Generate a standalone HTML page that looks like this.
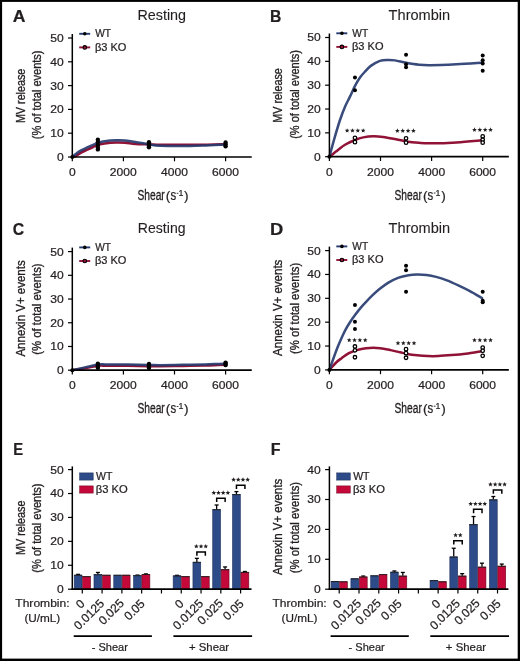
<!DOCTYPE html>
<html><head><meta charset="utf-8"><style>
html,body{margin:0;padding:0;background:#fff;}
svg{display:block;font-family:"Liberation Sans", sans-serif;will-change:transform;}
text{stroke:#231f20;stroke-width:0.22px;}
</style></head><body>
<svg width="520" height="661" viewBox="0 0 520 661">
<rect x="0" y="0" width="520" height="661" fill="#fff"/>
<path d="M72.30,157.00 C72.88,156.84 74.27,156.81 75.80,156.05 C77.33,155.28 79.58,153.48 81.50,152.41 C83.41,151.34 85.36,150.52 87.30,149.62 C89.23,148.72 91.26,147.79 93.10,147.00 C94.93,146.22 96.39,145.49 98.31,144.91 C100.23,144.33 101.61,143.91 104.60,143.51 C107.58,143.10 112.79,142.61 116.19,142.48 C119.60,142.35 121.81,142.48 125.01,142.72 C128.21,142.96 131.42,143.63 135.41,143.91 C139.40,144.19 144.79,144.23 148.95,144.39 C153.11,144.54 155.22,144.80 160.40,144.86 C165.57,144.92 172.89,144.76 179.99,144.74 C187.09,144.72 195.39,144.84 202.99,144.74 C210.59,144.64 221.83,144.25 225.60,144.15" fill="none" stroke="#901236" stroke-width="2.5" stroke-linecap="round"/>
<path d="M72.30,157.00 C72.88,156.48 74.27,155.04 75.80,153.91 C77.33,152.77 79.58,151.28 81.50,150.19 C83.41,149.11 85.36,148.31 87.30,147.41 C89.23,146.51 91.26,145.57 93.10,144.79 C94.93,144.01 96.39,143.30 98.31,142.72 C100.23,142.14 101.61,141.69 104.60,141.29 C107.58,140.90 112.79,140.46 116.19,140.34 C119.60,140.22 121.81,140.30 125.01,140.58 C128.21,140.86 131.42,141.37 135.41,142.01 C139.40,142.64 144.79,143.77 148.95,144.39 C153.11,145.00 155.22,145.42 160.40,145.69 C165.57,145.97 172.89,146.09 179.99,146.05 C187.09,146.01 195.39,145.73 202.99,145.46 C210.59,145.18 221.83,144.56 225.60,144.39" fill="none" stroke="#273c70" stroke-width="2.5" stroke-linecap="round" opacity="0.92"/>
<line x1="72.30" y1="34.00" x2="72.30" y2="157.75" stroke="#000" stroke-width="1.5"/>
<line x1="68.00" y1="157.00" x2="72.30" y2="157.00" stroke="#000" stroke-width="1.2"/>
<text x="56.97" y="160.91" font-size="11.2" text-anchor="start" font-weight="normal" fill="#231f20" textLength="6.73" lengthAdjust="spacingAndGlyphs" >0</text>
<line x1="68.00" y1="133.20" x2="72.30" y2="133.20" stroke="#000" stroke-width="1.2"/>
<text x="50.26" y="137.11" font-size="11.2" text-anchor="start" font-weight="normal" fill="#231f20" textLength="13.45" lengthAdjust="spacingAndGlyphs" >10</text>
<line x1="68.00" y1="109.40" x2="72.30" y2="109.40" stroke="#000" stroke-width="1.2"/>
<text x="50.26" y="113.31" font-size="11.2" text-anchor="start" font-weight="normal" fill="#231f20" textLength="13.45" lengthAdjust="spacingAndGlyphs" >20</text>
<line x1="68.00" y1="85.60" x2="72.30" y2="85.60" stroke="#000" stroke-width="1.2"/>
<text x="50.26" y="89.51" font-size="11.2" text-anchor="start" font-weight="normal" fill="#231f20" textLength="13.45" lengthAdjust="spacingAndGlyphs" >30</text>
<line x1="68.00" y1="61.80" x2="72.30" y2="61.80" stroke="#000" stroke-width="1.2"/>
<text x="50.26" y="65.71" font-size="11.2" text-anchor="start" font-weight="normal" fill="#231f20" textLength="13.45" lengthAdjust="spacingAndGlyphs" >40</text>
<line x1="68.00" y1="38.00" x2="72.30" y2="38.00" stroke="#000" stroke-width="1.2"/>
<text x="50.26" y="41.91" font-size="11.2" text-anchor="start" font-weight="normal" fill="#231f20" textLength="13.45" lengthAdjust="spacingAndGlyphs" >50</text>
<line x1="71.55" y1="157.00" x2="251.75" y2="157.00" stroke="#000" stroke-width="1.7"/>
<line x1="72.30" y1="157.00" x2="72.30" y2="161.30" stroke="#000" stroke-width="1.2"/>
<text x="68.94" y="175.90" font-size="11.2" text-anchor="start" font-weight="normal" fill="#231f20" textLength="6.73" lengthAdjust="spacingAndGlyphs" >0</text>
<line x1="123.40" y1="157.00" x2="123.40" y2="161.30" stroke="#000" stroke-width="1.2"/>
<text x="109.88" y="175.90" font-size="11.2" text-anchor="start" font-weight="normal" fill="#231f20" textLength="26.91" lengthAdjust="spacingAndGlyphs" >2000</text>
<line x1="174.50" y1="157.00" x2="174.50" y2="161.30" stroke="#000" stroke-width="1.2"/>
<text x="161.13" y="175.90" font-size="11.2" text-anchor="start" font-weight="normal" fill="#231f20" textLength="26.91" lengthAdjust="spacingAndGlyphs" >4000</text>
<line x1="225.60" y1="157.00" x2="225.60" y2="161.30" stroke="#000" stroke-width="1.2"/>
<text x="212.08" y="175.90" font-size="11.2" text-anchor="start" font-weight="normal" fill="#231f20" textLength="26.91" lengthAdjust="spacingAndGlyphs" >6000</text>
<text x="137.44" y="199.90" font-size="14.0" text-anchor="start" font-weight="normal" fill="#231f20" textLength="27.35" lengthAdjust="spacingAndGlyphs" style="stroke-width:0.3px">Shear</text>
<text x="165.78" y="199.80" font-size="13.6" text-anchor="start" font-weight="normal" fill="#231f20" >(</text>
<text x="170.46" y="199.90" font-size="14.2" text-anchor="start" font-weight="normal" fill="#231f20" textLength="5.68" lengthAdjust="spacingAndGlyphs" >s</text>
<line x1="176.70" y1="193.30" x2="178.40" y2="193.30" stroke="#231f20" stroke-width="0.9"/>
<text x="178.44" y="196.10" font-size="8.8" text-anchor="start" font-weight="normal" fill="#231f20" >1</text>
<text x="184.06" y="199.80" font-size="13.6" text-anchor="start" font-weight="normal" fill="#231f20" >)</text>
<text x="-27.41" y="0" font-size="12" fill="#231f20" textLength="54.48" lengthAdjust="spacingAndGlyphs" transform="translate(24.90,95.70) rotate(-90)" style="stroke-width:0.32px">MV release</text>
<text x="-44.36" y="0" font-size="12" fill="#231f20" textLength="88.77" lengthAdjust="spacingAndGlyphs" transform="translate(41.40,94.90) rotate(-90)" style="stroke-width:0.32px">(% of total events)</text>
<text x="12.66" y="22.10" font-size="16" text-anchor="start" font-weight="bold" fill="#231f20" textLength="12.71" lengthAdjust="spacingAndGlyphs" >A</text>
<text x="137.45" y="19.90" font-size="13.8" text-anchor="start" font-weight="normal" fill="#231f20" textLength="48.59" lengthAdjust="spacingAndGlyphs" style="stroke-width:0.1px">Resting</text>
<circle cx="97.85" cy="139.63" r="2.2" fill="#000"/>
<circle cx="97.85" cy="142.24" r="2.2" fill="#000"/>
<circle cx="97.85" cy="145.10" r="2.2" fill="#000"/>
<circle cx="97.85" cy="147.48" r="2.2" fill="#000"/>
<circle cx="97.85" cy="149.38" r="2.2" fill="#000"/>
<circle cx="148.95" cy="142.24" r="2.2" fill="#000"/>
<circle cx="148.95" cy="144.15" r="2.2" fill="#000"/>
<circle cx="148.95" cy="146.05" r="2.2" fill="#000"/>
<circle cx="148.95" cy="147.24" r="2.2" fill="#000"/>
<circle cx="225.60" cy="142.48" r="2.2" fill="#000"/>
<circle cx="225.60" cy="144.39" r="2.2" fill="#000"/>
<circle cx="225.60" cy="146.29" r="2.2" fill="#000"/>
<circle cx="72.30" cy="157.00" r="2.0" fill="#000"/>
<line x1="79.20" y1="33.80" x2="90.20" y2="33.80" stroke="#273c70" stroke-width="1.9"/>
<circle cx="84.80" cy="33.80" r="1.8" fill="#000"/>
<line x1="79.20" y1="47.40" x2="90.20" y2="47.40" stroke="#901236" stroke-width="1.9"/>
<circle cx="84.80" cy="47.40" r="1.8" fill="#901236" stroke="#000" stroke-width="1.1"/>
<text x="95.25" y="37.20" font-size="10.4" text-anchor="start" font-weight="normal" fill="#231f20" textLength="15.85" lengthAdjust="spacingAndGlyphs" >WT</text>
<text x="94.93" y="50.70" font-size="10.4" text-anchor="start" font-weight="normal" fill="#231f20" textLength="31.51" lengthAdjust="spacingAndGlyphs" >β3 KO</text>
<path d="M329.40,156.70 C330.88,155.55 335.69,151.77 338.29,149.79 C340.89,147.80 342.23,146.41 345.01,144.78 C347.80,143.15 351.95,141.24 355.00,140.01 C358.05,138.78 360.26,138.03 363.30,137.39 C366.35,136.75 369.98,136.28 373.29,136.20 C376.61,136.12 379.59,136.44 383.21,136.91 C386.83,137.39 391.18,138.30 395.01,139.06 C398.84,139.81 402.23,140.81 406.20,141.44 C410.17,142.08 414.79,142.55 418.82,142.87 C422.86,143.19 424.10,143.43 430.40,143.35 C436.70,143.27 448.03,142.91 456.61,142.40 C465.20,141.88 477.69,140.61 481.91,140.25" fill="none" stroke="#901236" stroke-width="2.5" stroke-linecap="round"/>
<path d="M329.40,156.70 C330.33,153.32 333.23,142.55 335.00,136.44 C336.76,130.32 338.33,124.95 340.00,119.99 C341.67,115.02 343.35,110.53 345.01,106.64 C346.68,102.74 348.33,100.08 349.99,96.62 C351.66,93.17 353.33,89.07 355.00,85.90 C356.67,82.72 358.34,79.94 360.01,77.55 C361.67,75.17 363.19,73.54 364.99,71.59 C366.79,69.64 368.30,67.66 370.79,65.87 C373.28,64.08 377.01,61.86 379.91,60.86 C382.81,59.87 385.67,59.99 388.19,59.91 C390.71,59.83 392.01,59.91 395.01,60.39 C398.01,60.86 402.23,62.06 406.20,62.77 C410.17,63.49 414.79,64.28 418.82,64.68 C422.86,65.07 424.10,65.23 430.40,65.15 C436.70,65.07 448.03,64.60 456.61,64.20 C465.20,63.80 477.69,63.01 481.91,62.77" fill="none" stroke="#273c70" stroke-width="2.5" stroke-linecap="round" opacity="0.92"/>
<line x1="329.40" y1="33.50" x2="329.40" y2="157.45" stroke="#000" stroke-width="1.5"/>
<line x1="325.10" y1="156.70" x2="329.40" y2="156.70" stroke="#000" stroke-width="1.2"/>
<text x="314.07" y="160.61" font-size="11.2" text-anchor="start" font-weight="normal" fill="#231f20" textLength="6.73" lengthAdjust="spacingAndGlyphs" >0</text>
<line x1="325.10" y1="132.86" x2="329.40" y2="132.86" stroke="#000" stroke-width="1.2"/>
<text x="307.36" y="136.77" font-size="11.2" text-anchor="start" font-weight="normal" fill="#231f20" textLength="13.45" lengthAdjust="spacingAndGlyphs" >10</text>
<line x1="325.10" y1="109.02" x2="329.40" y2="109.02" stroke="#000" stroke-width="1.2"/>
<text x="307.36" y="112.93" font-size="11.2" text-anchor="start" font-weight="normal" fill="#231f20" textLength="13.45" lengthAdjust="spacingAndGlyphs" >20</text>
<line x1="325.10" y1="85.18" x2="329.40" y2="85.18" stroke="#000" stroke-width="1.2"/>
<text x="307.36" y="89.09" font-size="11.2" text-anchor="start" font-weight="normal" fill="#231f20" textLength="13.45" lengthAdjust="spacingAndGlyphs" >30</text>
<line x1="325.10" y1="61.34" x2="329.40" y2="61.34" stroke="#000" stroke-width="1.2"/>
<text x="307.36" y="65.25" font-size="11.2" text-anchor="start" font-weight="normal" fill="#231f20" textLength="13.45" lengthAdjust="spacingAndGlyphs" >40</text>
<line x1="325.10" y1="37.50" x2="329.40" y2="37.50" stroke="#000" stroke-width="1.2"/>
<text x="307.36" y="41.41" font-size="11.2" text-anchor="start" font-weight="normal" fill="#231f20" textLength="13.45" lengthAdjust="spacingAndGlyphs" >50</text>
<line x1="328.65" y1="156.70" x2="508.85" y2="156.70" stroke="#000" stroke-width="1.7"/>
<line x1="329.40" y1="156.70" x2="329.40" y2="161.00" stroke="#000" stroke-width="1.2"/>
<text x="326.04" y="175.60" font-size="11.2" text-anchor="start" font-weight="normal" fill="#231f20" textLength="6.73" lengthAdjust="spacingAndGlyphs" >0</text>
<line x1="380.50" y1="156.70" x2="380.50" y2="161.00" stroke="#000" stroke-width="1.2"/>
<text x="366.98" y="175.60" font-size="11.2" text-anchor="start" font-weight="normal" fill="#231f20" textLength="26.91" lengthAdjust="spacingAndGlyphs" >2000</text>
<line x1="431.60" y1="156.70" x2="431.60" y2="161.00" stroke="#000" stroke-width="1.2"/>
<text x="418.23" y="175.60" font-size="11.2" text-anchor="start" font-weight="normal" fill="#231f20" textLength="26.91" lengthAdjust="spacingAndGlyphs" >4000</text>
<line x1="482.70" y1="156.70" x2="482.70" y2="161.00" stroke="#000" stroke-width="1.2"/>
<text x="469.18" y="175.60" font-size="11.2" text-anchor="start" font-weight="normal" fill="#231f20" textLength="26.91" lengthAdjust="spacingAndGlyphs" >6000</text>
<text x="394.54" y="199.60" font-size="14.0" text-anchor="start" font-weight="normal" fill="#231f20" textLength="27.35" lengthAdjust="spacingAndGlyphs" style="stroke-width:0.3px">Shear</text>
<text x="422.88" y="199.50" font-size="13.6" text-anchor="start" font-weight="normal" fill="#231f20" >(</text>
<text x="427.56" y="199.60" font-size="14.2" text-anchor="start" font-weight="normal" fill="#231f20" textLength="5.68" lengthAdjust="spacingAndGlyphs" >s</text>
<line x1="433.80" y1="193.00" x2="435.50" y2="193.00" stroke="#231f20" stroke-width="0.9"/>
<text x="435.54" y="195.80" font-size="8.8" text-anchor="start" font-weight="normal" fill="#231f20" >1</text>
<text x="441.16" y="199.50" font-size="13.6" text-anchor="start" font-weight="normal" fill="#231f20" >)</text>
<text x="-27.41" y="0" font-size="12" fill="#231f20" textLength="54.48" lengthAdjust="spacingAndGlyphs" transform="translate(282.00,95.30) rotate(-90)" style="stroke-width:0.32px">MV release</text>
<text x="-44.36" y="0" font-size="12" fill="#231f20" textLength="88.77" lengthAdjust="spacingAndGlyphs" transform="translate(298.50,94.50) rotate(-90)" style="stroke-width:0.32px">(% of total events)</text>
<text x="270.08" y="21.80" font-size="16" text-anchor="start" font-weight="bold" fill="#231f20" textLength="11.32" lengthAdjust="spacingAndGlyphs" >B</text>
<text x="388.64" y="19.60" font-size="13.8" text-anchor="start" font-weight="normal" fill="#231f20" textLength="61.60" lengthAdjust="spacingAndGlyphs" style="stroke-width:0.1px">Thrombin</text>
<circle cx="354.95" cy="77.55" r="2.0" fill="#000"/>
<circle cx="354.95" cy="90.19" r="2.0" fill="#000"/>
<circle cx="406.05" cy="54.66" r="2.0" fill="#000"/>
<circle cx="406.05" cy="64.20" r="2.0" fill="#000"/>
<circle cx="406.05" cy="67.30" r="2.0" fill="#000"/>
<circle cx="482.70" cy="55.62" r="2.0" fill="#000"/>
<circle cx="482.70" cy="60.15" r="2.0" fill="#000"/>
<circle cx="482.70" cy="63.49" r="2.0" fill="#000"/>
<circle cx="482.70" cy="70.64" r="2.0" fill="#000"/>
<circle cx="354.95" cy="137.87" r="1.75" fill="#fff" stroke="#000" stroke-width="1.3"/>
<circle cx="354.95" cy="142.16" r="1.75" fill="#fff" stroke="#000" stroke-width="1.3"/>
<circle cx="406.05" cy="138.34" r="1.75" fill="#fff" stroke="#000" stroke-width="1.3"/>
<circle cx="406.05" cy="142.63" r="1.75" fill="#fff" stroke="#000" stroke-width="1.3"/>
<circle cx="482.70" cy="136.44" r="1.75" fill="#fff" stroke="#000" stroke-width="1.3"/>
<circle cx="482.70" cy="139.77" r="1.75" fill="#fff" stroke="#000" stroke-width="1.3"/>
<circle cx="482.70" cy="142.63" r="1.75" fill="#fff" stroke="#000" stroke-width="1.3"/>
<circle cx="329.40" cy="156.70" r="2.0" fill="#000"/>
<polygon points="347.12,128.15 347.77,129.71 349.46,129.84 348.17,130.94 348.57,132.58 347.12,131.70 345.68,132.58 346.08,130.94 344.79,129.84 346.48,129.71" fill="#231f20"/>
<polygon points="352.48,128.15 353.12,129.71 354.81,129.84 353.52,130.94 353.92,132.58 352.48,131.70 351.03,132.58 351.43,130.94 350.14,129.84 351.83,129.71" fill="#231f20"/>
<polygon points="357.82,128.15 358.47,129.71 360.16,129.84 358.87,130.94 359.27,132.58 357.82,131.70 356.38,132.58 356.78,130.94 355.49,129.84 357.18,129.71" fill="#231f20"/>
<polygon points="363.18,128.15 363.82,129.71 365.51,129.84 364.22,130.94 364.62,132.58 363.18,131.70 361.73,132.58 362.13,130.94 360.84,129.84 362.53,129.71" fill="#231f20"/>
<polygon points="397.38,128.35 398.02,129.91 399.71,130.04 398.42,131.14 398.82,132.78 397.38,131.90 395.93,132.78 396.33,131.14 395.04,130.04 396.73,129.91" fill="#231f20"/>
<polygon points="402.73,128.35 403.37,129.91 405.06,130.04 403.77,131.14 404.17,132.78 402.73,131.90 401.28,132.78 401.68,131.14 400.39,130.04 402.08,129.91" fill="#231f20"/>
<polygon points="408.07,128.35 408.72,129.91 410.41,130.04 409.12,131.14 409.52,132.78 408.07,131.90 406.63,132.78 407.03,131.14 405.74,130.04 407.43,129.91" fill="#231f20"/>
<polygon points="413.43,128.35 414.07,129.91 415.76,130.04 414.47,131.14 414.87,132.78 413.43,131.90 411.98,132.78 412.38,131.14 411.09,130.04 412.78,129.91" fill="#231f20"/>
<polygon points="474.48,127.35 475.12,128.91 476.81,129.04 475.52,130.14 475.92,131.78 474.48,130.90 473.03,131.78 473.43,130.14 472.14,129.04 473.83,128.91" fill="#231f20"/>
<polygon points="479.83,127.35 480.47,128.91 482.16,129.04 480.87,130.14 481.27,131.78 479.83,130.90 478.38,131.78 478.78,130.14 477.49,129.04 479.18,128.91" fill="#231f20"/>
<polygon points="485.18,127.35 485.82,128.91 487.51,129.04 486.22,130.14 486.62,131.78 485.18,130.90 483.73,131.78 484.13,130.14 482.84,129.04 484.53,128.91" fill="#231f20"/>
<polygon points="490.53,127.35 491.17,128.91 492.86,129.04 491.57,130.14 491.97,131.78 490.53,130.90 489.08,131.78 489.48,130.14 488.19,129.04 489.88,128.91" fill="#231f20"/>
<line x1="336.30" y1="33.30" x2="347.30" y2="33.30" stroke="#273c70" stroke-width="1.9"/>
<circle cx="341.90" cy="33.30" r="1.8" fill="#000"/>
<line x1="336.30" y1="46.90" x2="347.30" y2="46.90" stroke="#901236" stroke-width="1.9"/>
<circle cx="341.90" cy="46.90" r="1.8" fill="#901236" stroke="#000" stroke-width="1.1"/>
<text x="352.35" y="36.70" font-size="10.4" text-anchor="start" font-weight="normal" fill="#231f20" textLength="15.85" lengthAdjust="spacingAndGlyphs" >WT</text>
<text x="352.03" y="50.20" font-size="10.4" text-anchor="start" font-weight="normal" fill="#231f20" textLength="31.51" lengthAdjust="spacingAndGlyphs" >β3 KO</text>
<path d="M72.30,370.20 C74.42,369.88 80.74,369.03 85.00,368.30 C89.26,367.57 94.43,366.25 97.85,365.81 C101.27,365.38 102.46,365.71 105.51,365.69 C108.57,365.67 112.50,365.67 116.19,365.69 C119.89,365.71 122.23,365.73 127.69,365.81 C133.15,365.89 143.50,366.09 148.95,366.17 C154.40,366.25 154.72,366.33 160.40,366.29 C166.07,366.25 175.55,366.07 183.01,365.93 C190.47,365.79 199.34,365.61 205.16,365.46 C210.98,365.30 214.53,365.10 217.94,364.98 C221.34,364.86 224.32,364.78 225.60,364.74" fill="none" stroke="#901236" stroke-width="2.5" stroke-linecap="round"/>
<path d="M72.30,370.20 C74.42,369.73 80.74,368.30 85.00,367.35 C89.26,366.40 94.43,365.00 97.85,364.51 C101.27,364.01 102.46,364.41 105.51,364.39 C108.57,364.37 112.50,364.37 116.19,364.39 C119.89,364.41 122.23,364.41 127.69,364.51 C133.15,364.61 143.50,364.86 148.95,364.98 C154.40,365.10 154.72,365.24 160.40,365.22 C166.07,365.20 175.55,365.00 183.01,364.86 C190.47,364.72 199.34,364.55 205.16,364.39 C210.98,364.23 214.53,364.03 217.94,363.91 C221.34,363.80 224.32,363.72 225.60,363.68" fill="none" stroke="#273c70" stroke-width="2.5" stroke-linecap="round" opacity="0.92"/>
<line x1="72.30" y1="247.60" x2="72.30" y2="370.95" stroke="#000" stroke-width="1.5"/>
<line x1="68.00" y1="370.20" x2="72.30" y2="370.20" stroke="#000" stroke-width="1.2"/>
<text x="56.97" y="374.11" font-size="11.2" text-anchor="start" font-weight="normal" fill="#231f20" textLength="6.73" lengthAdjust="spacingAndGlyphs" >0</text>
<line x1="68.00" y1="346.48" x2="72.30" y2="346.48" stroke="#000" stroke-width="1.2"/>
<text x="50.26" y="350.39" font-size="11.2" text-anchor="start" font-weight="normal" fill="#231f20" textLength="13.45" lengthAdjust="spacingAndGlyphs" >10</text>
<line x1="68.00" y1="322.76" x2="72.30" y2="322.76" stroke="#000" stroke-width="1.2"/>
<text x="50.26" y="326.67" font-size="11.2" text-anchor="start" font-weight="normal" fill="#231f20" textLength="13.45" lengthAdjust="spacingAndGlyphs" >20</text>
<line x1="68.00" y1="299.04" x2="72.30" y2="299.04" stroke="#000" stroke-width="1.2"/>
<text x="50.26" y="302.95" font-size="11.2" text-anchor="start" font-weight="normal" fill="#231f20" textLength="13.45" lengthAdjust="spacingAndGlyphs" >30</text>
<line x1="68.00" y1="275.32" x2="72.30" y2="275.32" stroke="#000" stroke-width="1.2"/>
<text x="50.26" y="279.23" font-size="11.2" text-anchor="start" font-weight="normal" fill="#231f20" textLength="13.45" lengthAdjust="spacingAndGlyphs" >40</text>
<line x1="68.00" y1="251.60" x2="72.30" y2="251.60" stroke="#000" stroke-width="1.2"/>
<text x="50.26" y="255.51" font-size="11.2" text-anchor="start" font-weight="normal" fill="#231f20" textLength="13.45" lengthAdjust="spacingAndGlyphs" >50</text>
<line x1="71.55" y1="370.20" x2="251.75" y2="370.20" stroke="#000" stroke-width="1.7"/>
<line x1="72.30" y1="370.20" x2="72.30" y2="374.50" stroke="#000" stroke-width="1.2"/>
<text x="68.94" y="389.10" font-size="11.2" text-anchor="start" font-weight="normal" fill="#231f20" textLength="6.73" lengthAdjust="spacingAndGlyphs" >0</text>
<line x1="123.40" y1="370.20" x2="123.40" y2="374.50" stroke="#000" stroke-width="1.2"/>
<text x="109.88" y="389.10" font-size="11.2" text-anchor="start" font-weight="normal" fill="#231f20" textLength="26.91" lengthAdjust="spacingAndGlyphs" >2000</text>
<line x1="174.50" y1="370.20" x2="174.50" y2="374.50" stroke="#000" stroke-width="1.2"/>
<text x="161.13" y="389.10" font-size="11.2" text-anchor="start" font-weight="normal" fill="#231f20" textLength="26.91" lengthAdjust="spacingAndGlyphs" >4000</text>
<line x1="225.60" y1="370.20" x2="225.60" y2="374.50" stroke="#000" stroke-width="1.2"/>
<text x="212.08" y="389.10" font-size="11.2" text-anchor="start" font-weight="normal" fill="#231f20" textLength="26.91" lengthAdjust="spacingAndGlyphs" >6000</text>
<text x="137.44" y="413.10" font-size="14.0" text-anchor="start" font-weight="normal" fill="#231f20" textLength="27.35" lengthAdjust="spacingAndGlyphs" style="stroke-width:0.3px">Shear</text>
<text x="165.78" y="413.00" font-size="13.6" text-anchor="start" font-weight="normal" fill="#231f20" >(</text>
<text x="170.46" y="413.10" font-size="14.2" text-anchor="start" font-weight="normal" fill="#231f20" textLength="5.68" lengthAdjust="spacingAndGlyphs" >s</text>
<line x1="176.70" y1="406.50" x2="178.40" y2="406.50" stroke="#231f20" stroke-width="0.9"/>
<text x="178.44" y="409.30" font-size="8.8" text-anchor="start" font-weight="normal" fill="#231f20" >1</text>
<text x="184.06" y="413.00" font-size="13.6" text-anchor="start" font-weight="normal" fill="#231f20" >)</text>
<text x="-47.96" y="0" font-size="12" fill="#231f20" textLength="96.28" lengthAdjust="spacingAndGlyphs" transform="translate(24.90,308.60) rotate(-90)" style="stroke-width:0.32px">Annexin V+ events</text>
<text x="-45.63" y="0" font-size="12" fill="#231f20" textLength="91.31" lengthAdjust="spacingAndGlyphs" transform="translate(41.40,309.10) rotate(-90)" style="stroke-width:0.32px">(% of total events)</text>
<text x="12.77" y="235.30" font-size="16" text-anchor="start" font-weight="bold" fill="#231f20" textLength="11.44" lengthAdjust="spacingAndGlyphs" >C</text>
<text x="137.88" y="233.10" font-size="13.8" text-anchor="start" font-weight="normal" fill="#231f20" textLength="47.65" lengthAdjust="spacingAndGlyphs" style="stroke-width:0.1px">Resting</text>
<circle cx="97.85" cy="363.80" r="2.2" fill="#000"/>
<circle cx="97.85" cy="365.46" r="2.2" fill="#000"/>
<circle cx="97.85" cy="366.88" r="2.2" fill="#000"/>
<circle cx="97.85" cy="367.83" r="2.2" fill="#000"/>
<circle cx="148.95" cy="364.03" r="2.2" fill="#000"/>
<circle cx="148.95" cy="365.69" r="2.2" fill="#000"/>
<circle cx="148.95" cy="367.12" r="2.2" fill="#000"/>
<circle cx="148.95" cy="367.83" r="2.2" fill="#000"/>
<circle cx="225.60" cy="362.61" r="2.2" fill="#000"/>
<circle cx="225.60" cy="364.03" r="2.2" fill="#000"/>
<circle cx="225.60" cy="364.98" r="2.2" fill="#000"/>
<circle cx="72.30" cy="370.20" r="2.0" fill="#000"/>
<line x1="79.20" y1="247.40" x2="90.20" y2="247.40" stroke="#273c70" stroke-width="1.9"/>
<circle cx="84.80" cy="247.40" r="1.8" fill="#000"/>
<line x1="79.20" y1="261.00" x2="90.20" y2="261.00" stroke="#901236" stroke-width="1.9"/>
<circle cx="84.80" cy="261.00" r="1.8" fill="#901236" stroke="#000" stroke-width="1.1"/>
<text x="95.25" y="250.80" font-size="10.4" text-anchor="start" font-weight="normal" fill="#231f20" textLength="15.85" lengthAdjust="spacingAndGlyphs" >WT</text>
<text x="94.93" y="264.30" font-size="10.4" text-anchor="start" font-weight="normal" fill="#231f20" textLength="31.51" lengthAdjust="spacingAndGlyphs" >β3 KO</text>
<path d="M329.40,369.90 C330.57,368.63 334.32,364.25 336.40,362.26 C338.48,360.28 339.81,359.48 341.89,357.97 C343.98,356.46 346.56,354.47 348.89,353.20 C351.23,351.93 353.58,351.09 355.90,350.33 C358.21,349.58 360.48,349.06 362.79,348.66 C365.11,348.27 367.48,348.07 369.79,347.95 C372.11,347.83 374.38,347.83 376.69,347.95 C379.01,348.07 381.36,348.31 383.69,348.66 C386.03,349.02 388.00,349.50 390.72,350.10 C393.44,350.69 397.30,351.61 399.99,352.24 C402.69,352.88 404.01,353.40 406.89,353.91 C409.78,354.43 413.83,354.99 417.29,355.35 C420.76,355.70 424.22,355.94 427.69,356.06 C431.16,356.18 434.05,356.22 438.09,356.06 C442.13,355.90 447.31,355.50 451.91,355.11 C456.52,354.71 460.81,354.31 465.71,353.68 C470.61,353.04 478.70,351.69 481.29,351.29" fill="none" stroke="#901236" stroke-width="2.5" stroke-linecap="round"/>
<path d="M329.40,369.90 C330.10,367.91 332.21,361.79 333.59,357.97 C334.97,354.15 336.32,350.45 337.70,346.99 C339.09,343.53 340.49,340.27 341.89,337.21 C343.29,334.15 344.71,331.21 346.11,328.62 C347.51,326.04 348.78,324.01 350.30,321.70 C351.82,319.40 353.59,316.97 355.21,314.78 C356.82,312.60 358.28,310.65 360.01,308.58 C361.74,306.51 363.50,304.60 365.60,302.38 C367.70,300.15 370.29,297.45 372.61,295.22 C374.92,292.99 376.94,291.08 379.50,289.01 C382.07,286.95 384.93,284.68 388.01,282.81 C391.09,280.94 394.57,279.07 398.00,277.80 C401.43,276.53 405.43,275.73 408.60,275.18 C411.78,274.62 414.06,274.50 417.04,274.46 C420.02,274.42 423.31,274.54 426.49,274.94 C429.67,275.33 432.69,275.93 436.10,276.85 C439.50,277.76 443.23,278.99 446.93,280.42 C450.63,281.86 454.47,283.65 458.30,285.44 C462.13,287.23 465.96,289.05 469.92,291.16 C473.89,293.27 480.06,296.93 482.09,298.08" fill="none" stroke="#273c70" stroke-width="2.5" stroke-linecap="round" opacity="0.92"/>
<line x1="329.40" y1="246.60" x2="329.40" y2="370.65" stroke="#000" stroke-width="1.5"/>
<line x1="325.10" y1="369.90" x2="329.40" y2="369.90" stroke="#000" stroke-width="1.2"/>
<text x="314.07" y="373.81" font-size="11.2" text-anchor="start" font-weight="normal" fill="#231f20" textLength="6.73" lengthAdjust="spacingAndGlyphs" >0</text>
<line x1="325.10" y1="346.04" x2="329.40" y2="346.04" stroke="#000" stroke-width="1.2"/>
<text x="307.36" y="349.95" font-size="11.2" text-anchor="start" font-weight="normal" fill="#231f20" textLength="13.45" lengthAdjust="spacingAndGlyphs" >10</text>
<line x1="325.10" y1="322.18" x2="329.40" y2="322.18" stroke="#000" stroke-width="1.2"/>
<text x="307.36" y="326.09" font-size="11.2" text-anchor="start" font-weight="normal" fill="#231f20" textLength="13.45" lengthAdjust="spacingAndGlyphs" >20</text>
<line x1="325.10" y1="298.32" x2="329.40" y2="298.32" stroke="#000" stroke-width="1.2"/>
<text x="307.36" y="302.23" font-size="11.2" text-anchor="start" font-weight="normal" fill="#231f20" textLength="13.45" lengthAdjust="spacingAndGlyphs" >30</text>
<line x1="325.10" y1="274.46" x2="329.40" y2="274.46" stroke="#000" stroke-width="1.2"/>
<text x="307.36" y="278.37" font-size="11.2" text-anchor="start" font-weight="normal" fill="#231f20" textLength="13.45" lengthAdjust="spacingAndGlyphs" >40</text>
<line x1="325.10" y1="250.60" x2="329.40" y2="250.60" stroke="#000" stroke-width="1.2"/>
<text x="307.36" y="254.51" font-size="11.2" text-anchor="start" font-weight="normal" fill="#231f20" textLength="13.45" lengthAdjust="spacingAndGlyphs" >50</text>
<line x1="328.65" y1="369.90" x2="508.85" y2="369.90" stroke="#000" stroke-width="1.7"/>
<line x1="329.40" y1="369.90" x2="329.40" y2="374.20" stroke="#000" stroke-width="1.2"/>
<text x="326.04" y="388.80" font-size="11.2" text-anchor="start" font-weight="normal" fill="#231f20" textLength="6.73" lengthAdjust="spacingAndGlyphs" >0</text>
<line x1="380.50" y1="369.90" x2="380.50" y2="374.20" stroke="#000" stroke-width="1.2"/>
<text x="366.98" y="388.80" font-size="11.2" text-anchor="start" font-weight="normal" fill="#231f20" textLength="26.91" lengthAdjust="spacingAndGlyphs" >2000</text>
<line x1="431.60" y1="369.90" x2="431.60" y2="374.20" stroke="#000" stroke-width="1.2"/>
<text x="418.23" y="388.80" font-size="11.2" text-anchor="start" font-weight="normal" fill="#231f20" textLength="26.91" lengthAdjust="spacingAndGlyphs" >4000</text>
<line x1="482.70" y1="369.90" x2="482.70" y2="374.20" stroke="#000" stroke-width="1.2"/>
<text x="469.18" y="388.80" font-size="11.2" text-anchor="start" font-weight="normal" fill="#231f20" textLength="26.91" lengthAdjust="spacingAndGlyphs" >6000</text>
<text x="394.54" y="412.80" font-size="14.0" text-anchor="start" font-weight="normal" fill="#231f20" textLength="27.35" lengthAdjust="spacingAndGlyphs" style="stroke-width:0.3px">Shear</text>
<text x="422.88" y="412.70" font-size="13.6" text-anchor="start" font-weight="normal" fill="#231f20" >(</text>
<text x="427.56" y="412.80" font-size="14.2" text-anchor="start" font-weight="normal" fill="#231f20" textLength="5.68" lengthAdjust="spacingAndGlyphs" >s</text>
<line x1="433.80" y1="406.20" x2="435.50" y2="406.20" stroke="#231f20" stroke-width="0.9"/>
<text x="435.54" y="409.00" font-size="8.8" text-anchor="start" font-weight="normal" fill="#231f20" >1</text>
<text x="441.16" y="412.70" font-size="13.6" text-anchor="start" font-weight="normal" fill="#231f20" >)</text>
<text x="-47.96" y="0" font-size="12" fill="#231f20" textLength="96.28" lengthAdjust="spacingAndGlyphs" transform="translate(282.00,307.95) rotate(-90)" style="stroke-width:0.32px">Annexin V+ events</text>
<text x="-45.63" y="0" font-size="12" fill="#231f20" textLength="91.31" lengthAdjust="spacingAndGlyphs" transform="translate(298.50,308.45) rotate(-90)" style="stroke-width:0.32px">(% of total events)</text>
<text x="269.90" y="235.00" font-size="16" text-anchor="start" font-weight="bold" fill="#231f20" textLength="13.29" lengthAdjust="spacingAndGlyphs" >D</text>
<text x="388.64" y="232.80" font-size="13.8" text-anchor="start" font-weight="normal" fill="#231f20" textLength="61.60" lengthAdjust="spacingAndGlyphs" style="stroke-width:0.1px">Thrombin</text>
<circle cx="354.95" cy="305.00" r="2.0" fill="#000"/>
<circle cx="354.95" cy="321.70" r="2.0" fill="#000"/>
<circle cx="354.95" cy="329.10" r="2.0" fill="#000"/>
<circle cx="406.05" cy="265.63" r="2.0" fill="#000"/>
<circle cx="406.05" cy="270.17" r="2.0" fill="#000"/>
<circle cx="406.05" cy="291.64" r="2.0" fill="#000"/>
<circle cx="482.70" cy="291.64" r="2.0" fill="#000"/>
<circle cx="482.70" cy="300.71" r="2.0" fill="#000"/>
<circle cx="482.70" cy="302.14" r="2.0" fill="#000"/>
<circle cx="354.95" cy="346.52" r="1.75" fill="#fff" stroke="#000" stroke-width="1.3"/>
<circle cx="354.95" cy="350.33" r="1.75" fill="#fff" stroke="#000" stroke-width="1.3"/>
<circle cx="354.95" cy="357.25" r="1.75" fill="#fff" stroke="#000" stroke-width="1.3"/>
<circle cx="406.05" cy="349.14" r="1.75" fill="#fff" stroke="#000" stroke-width="1.3"/>
<circle cx="406.05" cy="353.20" r="1.75" fill="#fff" stroke="#000" stroke-width="1.3"/>
<circle cx="406.05" cy="357.73" r="1.75" fill="#fff" stroke="#000" stroke-width="1.3"/>
<circle cx="482.70" cy="347.71" r="1.75" fill="#fff" stroke="#000" stroke-width="1.3"/>
<circle cx="482.70" cy="350.81" r="1.75" fill="#fff" stroke="#000" stroke-width="1.3"/>
<circle cx="482.70" cy="355.82" r="1.75" fill="#fff" stroke="#000" stroke-width="1.3"/>
<circle cx="329.40" cy="369.90" r="2.0" fill="#000"/>
<polygon points="349.18,337.75 349.82,339.31 351.51,339.44 350.22,340.54 350.62,342.18 349.18,341.30 347.73,342.18 348.13,340.54 346.84,339.44 348.53,339.31" fill="#231f20"/>
<polygon points="354.53,337.75 355.17,339.31 356.86,339.44 355.57,340.54 355.97,342.18 354.53,341.30 353.08,342.18 353.48,340.54 352.19,339.44 353.88,339.31" fill="#231f20"/>
<polygon points="359.88,337.75 360.52,339.31 362.21,339.44 360.92,340.54 361.32,342.18 359.88,341.30 358.43,342.18 358.83,340.54 357.54,339.44 359.23,339.31" fill="#231f20"/>
<polygon points="365.23,337.75 365.87,339.31 367.56,339.44 366.27,340.54 366.67,342.18 365.23,341.30 363.78,342.18 364.18,340.54 362.89,339.44 364.58,339.31" fill="#231f20"/>
<polygon points="397.98,340.75 398.62,342.31 400.31,342.44 399.02,343.54 399.42,345.18 397.98,344.30 396.53,345.18 396.93,343.54 395.64,342.44 397.33,342.31" fill="#231f20"/>
<polygon points="403.33,340.75 403.97,342.31 405.66,342.44 404.37,343.54 404.77,345.18 403.33,344.30 401.88,345.18 402.28,343.54 400.99,342.44 402.68,342.31" fill="#231f20"/>
<polygon points="408.68,340.75 409.32,342.31 411.01,342.44 409.72,343.54 410.12,345.18 408.68,344.30 407.23,345.18 407.63,343.54 406.34,342.44 408.03,342.31" fill="#231f20"/>
<polygon points="414.03,340.75 414.67,342.31 416.36,342.44 415.07,343.54 415.47,345.18 414.03,344.30 412.58,345.18 412.98,343.54 411.69,342.44 413.38,342.31" fill="#231f20"/>
<polygon points="474.48,337.75 475.12,339.31 476.81,339.44 475.52,340.54 475.92,342.18 474.48,341.30 473.03,342.18 473.43,340.54 472.14,339.44 473.83,339.31" fill="#231f20"/>
<polygon points="479.83,337.75 480.47,339.31 482.16,339.44 480.87,340.54 481.27,342.18 479.83,341.30 478.38,342.18 478.78,340.54 477.49,339.44 479.18,339.31" fill="#231f20"/>
<polygon points="485.18,337.75 485.82,339.31 487.51,339.44 486.22,340.54 486.62,342.18 485.18,341.30 483.73,342.18 484.13,340.54 482.84,339.44 484.53,339.31" fill="#231f20"/>
<polygon points="490.53,337.75 491.17,339.31 492.86,339.44 491.57,340.54 491.97,342.18 490.53,341.30 489.08,342.18 489.48,340.54 488.19,339.44 489.88,339.31" fill="#231f20"/>
<line x1="336.30" y1="246.40" x2="347.30" y2="246.40" stroke="#273c70" stroke-width="1.9"/>
<circle cx="341.90" cy="246.40" r="1.8" fill="#000"/>
<line x1="336.30" y1="260.00" x2="347.30" y2="260.00" stroke="#901236" stroke-width="1.9"/>
<circle cx="341.90" cy="260.00" r="1.8" fill="#901236" stroke="#000" stroke-width="1.1"/>
<text x="352.35" y="249.80" font-size="10.4" text-anchor="start" font-weight="normal" fill="#231f20" textLength="15.85" lengthAdjust="spacingAndGlyphs" >WT</text>
<text x="352.03" y="263.30" font-size="10.4" text-anchor="start" font-weight="normal" fill="#231f20" textLength="31.51" lengthAdjust="spacingAndGlyphs" >β3 KO</text>
<line x1="78.10" y1="574.37" x2="78.10" y2="574.85" stroke="#000" stroke-width="1.3"/>
<line x1="76.10" y1="574.37" x2="80.10" y2="574.37" stroke="#000" stroke-width="1.3"/>
<rect x="74.20" y="575.15" width="7.80" height="14.05" fill="#2d4b88" stroke="#1c2f5a" stroke-width="0.6"/>
<line x1="74.20" y1="575.25" x2="82.00" y2="575.25" stroke="#1a1a1a" stroke-width="0.9"/>
<rect x="82.60" y="576.58" width="7.90" height="12.62" fill="#c4093a" stroke="#6a0a20" stroke-width="0.6"/>
<line x1="82.60" y1="576.68" x2="90.50" y2="576.68" stroke="#1a1a1a" stroke-width="0.9"/>
<line x1="97.89" y1="572.46" x2="97.89" y2="574.37" stroke="#000" stroke-width="1.3"/>
<line x1="95.89" y1="572.46" x2="99.89" y2="572.46" stroke="#000" stroke-width="1.3"/>
<rect x="93.99" y="574.67" width="7.80" height="14.53" fill="#2d4b88" stroke="#1c2f5a" stroke-width="0.6"/>
<line x1="93.99" y1="574.77" x2="101.79" y2="574.77" stroke="#1a1a1a" stroke-width="0.9"/>
<rect x="102.39" y="575.15" width="7.90" height="14.05" fill="#c4093a" stroke="#6a0a20" stroke-width="0.6"/>
<line x1="102.39" y1="575.25" x2="110.29" y2="575.25" stroke="#1a1a1a" stroke-width="0.9"/>
<rect x="113.78" y="575.15" width="7.80" height="14.05" fill="#2d4b88" stroke="#1c2f5a" stroke-width="0.6"/>
<line x1="113.78" y1="575.25" x2="121.58" y2="575.25" stroke="#1a1a1a" stroke-width="0.9"/>
<rect x="122.18" y="575.15" width="7.90" height="14.05" fill="#c4093a" stroke="#6a0a20" stroke-width="0.6"/>
<line x1="122.18" y1="575.25" x2="130.08" y2="575.25" stroke="#1a1a1a" stroke-width="0.9"/>
<line x1="137.47" y1="575.09" x2="137.47" y2="575.33" stroke="#000" stroke-width="1.3"/>
<line x1="135.47" y1="575.09" x2="139.47" y2="575.09" stroke="#000" stroke-width="1.3"/>
<rect x="133.57" y="575.63" width="7.80" height="13.57" fill="#2d4b88" stroke="#1c2f5a" stroke-width="0.6"/>
<line x1="133.57" y1="575.73" x2="141.37" y2="575.73" stroke="#1a1a1a" stroke-width="0.9"/>
<line x1="145.92" y1="573.89" x2="145.92" y2="574.13" stroke="#000" stroke-width="1.3"/>
<line x1="143.92" y1="573.89" x2="147.92" y2="573.89" stroke="#000" stroke-width="1.3"/>
<rect x="141.97" y="574.43" width="7.90" height="14.77" fill="#c4093a" stroke="#6a0a20" stroke-width="0.6"/>
<line x1="141.97" y1="574.53" x2="149.87" y2="574.53" stroke="#1a1a1a" stroke-width="0.9"/>
<line x1="177.05" y1="575.33" x2="177.05" y2="575.57" stroke="#000" stroke-width="1.3"/>
<line x1="175.05" y1="575.33" x2="179.05" y2="575.33" stroke="#000" stroke-width="1.3"/>
<rect x="173.15" y="575.87" width="7.80" height="13.33" fill="#2d4b88" stroke="#1c2f5a" stroke-width="0.6"/>
<line x1="173.15" y1="575.97" x2="180.95" y2="575.97" stroke="#1a1a1a" stroke-width="0.9"/>
<rect x="181.55" y="576.58" width="7.90" height="12.62" fill="#c4093a" stroke="#6a0a20" stroke-width="0.6"/>
<line x1="181.55" y1="576.68" x2="189.45" y2="576.68" stroke="#1a1a1a" stroke-width="0.9"/>
<line x1="196.84" y1="558.34" x2="196.84" y2="561.93" stroke="#000" stroke-width="1.3"/>
<line x1="194.84" y1="558.34" x2="198.84" y2="558.34" stroke="#000" stroke-width="1.3"/>
<rect x="192.94" y="562.23" width="7.80" height="26.97" fill="#2d4b88" stroke="#1c2f5a" stroke-width="0.6"/>
<line x1="192.94" y1="562.33" x2="200.74" y2="562.33" stroke="#1a1a1a" stroke-width="0.9"/>
<rect x="201.34" y="576.58" width="7.90" height="12.62" fill="#c4093a" stroke="#6a0a20" stroke-width="0.6"/>
<line x1="201.34" y1="576.68" x2="209.24" y2="576.68" stroke="#1a1a1a" stroke-width="0.9"/>
<line x1="216.63" y1="505.00" x2="216.63" y2="509.31" stroke="#000" stroke-width="1.3"/>
<line x1="214.63" y1="505.00" x2="218.63" y2="505.00" stroke="#000" stroke-width="1.3"/>
<rect x="212.73" y="509.61" width="7.80" height="79.59" fill="#2d4b88" stroke="#1c2f5a" stroke-width="0.6"/>
<line x1="212.73" y1="509.71" x2="220.53" y2="509.71" stroke="#1a1a1a" stroke-width="0.9"/>
<line x1="225.08" y1="566.95" x2="225.08" y2="569.35" stroke="#000" stroke-width="1.3"/>
<line x1="223.08" y1="566.95" x2="227.08" y2="566.95" stroke="#000" stroke-width="1.3"/>
<rect x="221.13" y="569.65" width="7.90" height="19.55" fill="#c4093a" stroke="#6a0a20" stroke-width="0.6"/>
<line x1="221.13" y1="569.75" x2="229.03" y2="569.75" stroke="#1a1a1a" stroke-width="0.9"/>
<line x1="236.42" y1="491.61" x2="236.42" y2="494.24" stroke="#000" stroke-width="1.3"/>
<line x1="234.42" y1="491.61" x2="238.42" y2="491.61" stroke="#000" stroke-width="1.3"/>
<rect x="232.52" y="494.54" width="7.80" height="94.66" fill="#2d4b88" stroke="#1c2f5a" stroke-width="0.6"/>
<line x1="232.52" y1="494.64" x2="240.32" y2="494.64" stroke="#1a1a1a" stroke-width="0.9"/>
<line x1="244.87" y1="571.50" x2="244.87" y2="571.98" stroke="#000" stroke-width="1.3"/>
<line x1="242.87" y1="571.50" x2="246.87" y2="571.50" stroke="#000" stroke-width="1.3"/>
<rect x="240.92" y="572.28" width="7.90" height="16.92" fill="#c4093a" stroke="#6a0a20" stroke-width="0.6"/>
<line x1="240.92" y1="572.38" x2="248.82" y2="572.38" stroke="#1a1a1a" stroke-width="0.9"/>
<line x1="72.30" y1="466.40" x2="72.30" y2="589.95" stroke="#000" stroke-width="1.5"/>
<line x1="68.00" y1="589.20" x2="72.30" y2="589.20" stroke="#000" stroke-width="1.2"/>
<text x="56.97" y="593.11" font-size="11.2" text-anchor="start" font-weight="normal" fill="#231f20" textLength="6.73" lengthAdjust="spacingAndGlyphs" >0</text>
<line x1="68.00" y1="565.28" x2="72.30" y2="565.28" stroke="#000" stroke-width="1.2"/>
<text x="50.26" y="569.19" font-size="11.2" text-anchor="start" font-weight="normal" fill="#231f20" textLength="13.45" lengthAdjust="spacingAndGlyphs" >10</text>
<line x1="68.00" y1="541.36" x2="72.30" y2="541.36" stroke="#000" stroke-width="1.2"/>
<text x="50.26" y="545.27" font-size="11.2" text-anchor="start" font-weight="normal" fill="#231f20" textLength="13.45" lengthAdjust="spacingAndGlyphs" >20</text>
<line x1="68.00" y1="517.44" x2="72.30" y2="517.44" stroke="#000" stroke-width="1.2"/>
<text x="50.26" y="521.35" font-size="11.2" text-anchor="start" font-weight="normal" fill="#231f20" textLength="13.45" lengthAdjust="spacingAndGlyphs" >30</text>
<line x1="68.00" y1="493.52" x2="72.30" y2="493.52" stroke="#000" stroke-width="1.2"/>
<text x="50.26" y="497.43" font-size="11.2" text-anchor="start" font-weight="normal" fill="#231f20" textLength="13.45" lengthAdjust="spacingAndGlyphs" >40</text>
<line x1="68.00" y1="469.60" x2="72.30" y2="469.60" stroke="#000" stroke-width="1.2"/>
<text x="50.26" y="473.51" font-size="11.2" text-anchor="start" font-weight="normal" fill="#231f20" textLength="13.45" lengthAdjust="spacingAndGlyphs" >50</text>
<line x1="71.55" y1="589.20" x2="251.52" y2="589.20" stroke="#000" stroke-width="1.7"/>
<line x1="82.30" y1="589.20" x2="82.30" y2="593.50" stroke="#000" stroke-width="1.2"/>
<line x1="102.09" y1="589.20" x2="102.09" y2="593.50" stroke="#000" stroke-width="1.2"/>
<line x1="121.88" y1="589.20" x2="121.88" y2="593.50" stroke="#000" stroke-width="1.2"/>
<line x1="141.67" y1="589.20" x2="141.67" y2="593.50" stroke="#000" stroke-width="1.2"/>
<line x1="161.46" y1="589.20" x2="161.46" y2="593.50" stroke="#000" stroke-width="1.2"/>
<line x1="181.25" y1="589.20" x2="181.25" y2="593.50" stroke="#000" stroke-width="1.2"/>
<line x1="201.04" y1="589.20" x2="201.04" y2="593.50" stroke="#000" stroke-width="1.2"/>
<line x1="220.83" y1="589.20" x2="220.83" y2="593.50" stroke="#000" stroke-width="1.2"/>
<line x1="240.62" y1="589.20" x2="240.62" y2="593.50" stroke="#000" stroke-width="1.2"/>
<text x="0.00" y="0.00" font-size="12.1" text-anchor="end" font-weight="normal" fill="#231f20" transform="translate(85.50,604.40) rotate(-45)">0</text>
<text x="0.00" y="0.00" font-size="12.1" text-anchor="end" font-weight="normal" fill="#231f20" transform="translate(104.99,604.30) rotate(-45)">0.0125</text>
<text x="0.00" y="0.00" font-size="12.1" text-anchor="end" font-weight="normal" fill="#231f20" transform="translate(124.78,604.10) rotate(-45)">0.025</text>
<text x="0.00" y="0.00" font-size="12.1" text-anchor="end" font-weight="normal" fill="#231f20" transform="translate(145.57,604.40) rotate(-45)">0.05</text>
<line x1="73.70" y1="636.10" x2="151.90" y2="636.10" stroke="#000" stroke-width="1.9"/>
<text x="0.00" y="0.00" font-size="12.1" text-anchor="end" font-weight="normal" fill="#231f20" transform="translate(184.45,604.40) rotate(-45)">0</text>
<text x="0.00" y="0.00" font-size="12.1" text-anchor="end" font-weight="normal" fill="#231f20" transform="translate(203.94,604.30) rotate(-45)">0.0125</text>
<text x="0.00" y="0.00" font-size="12.1" text-anchor="end" font-weight="normal" fill="#231f20" transform="translate(223.73,604.10) rotate(-45)">0.025</text>
<text x="0.00" y="0.00" font-size="12.1" text-anchor="end" font-weight="normal" fill="#231f20" transform="translate(244.52,604.40) rotate(-45)">0.05</text>
<line x1="173.40" y1="636.10" x2="252.10" y2="636.10" stroke="#000" stroke-width="1.9"/>
<text x="91.70" y="650.80" font-size="11.5" text-anchor="start" font-weight="normal" fill="#231f20" textLength="36.21" lengthAdjust="spacingAndGlyphs" >- Shear</text>
<text x="188.93" y="651.10" font-size="11.5" text-anchor="start" font-weight="normal" fill="#231f20" textLength="40.20" lengthAdjust="spacingAndGlyphs" >+ Shear</text>
<text x="15.30" y="607.00" font-size="11.8" text-anchor="start" font-weight="normal" fill="#231f20" textLength="54.31" lengthAdjust="spacingAndGlyphs" >Thrombin:</text>
<text x="24.40" y="621.50" font-size="11.8" text-anchor="start" font-weight="normal" fill="#231f20" textLength="35.87" lengthAdjust="spacingAndGlyphs" >(U/mL)</text>
<text x="-27.41" y="0" font-size="12" fill="#231f20" textLength="54.48" lengthAdjust="spacingAndGlyphs" transform="translate(24.90,527.60) rotate(-90)" style="stroke-width:0.32px">MV release</text>
<text x="-44.61" y="0" font-size="12" fill="#231f20" textLength="89.28" lengthAdjust="spacingAndGlyphs" transform="translate(41.40,528.10) rotate(-90)" style="stroke-width:0.32px">(% of total events)</text>
<text x="13.24" y="454.70" font-size="16" text-anchor="start" font-weight="bold" fill="#231f20" textLength="9.82" lengthAdjust="spacingAndGlyphs" >E</text>
<rect x="79.60" y="472.90" width="13.6" height="7.2" fill="#2d4b88" stroke="#1c2f5a" stroke-width="0.5"/>
<rect x="79.60" y="485.90" width="13.6" height="7.2" fill="#c4093a" stroke="#6a0a20" stroke-width="0.5"/>
<text x="96.05" y="480.10" font-size="10.4" text-anchor="start" font-weight="normal" fill="#231f20" textLength="16.36" lengthAdjust="spacingAndGlyphs" >WT</text>
<text x="95.82" y="492.80" font-size="10.4" text-anchor="start" font-weight="normal" fill="#231f20" textLength="31.93" lengthAdjust="spacingAndGlyphs" >β3 KO</text>
<path d="M196.89,555.68 V551.88 H205.34 V555.68" fill="none" stroke="#000" stroke-width="1.5"/>
<polygon points="196.34,543.93 196.99,545.49 198.67,545.63 197.39,546.72 197.78,548.37 196.34,547.48 194.90,548.37 195.29,546.72 194.01,545.63 195.69,545.49" fill="#231f20"/>
<polygon points="201.04,543.93 201.69,545.49 203.37,545.63 202.09,546.72 202.48,548.37 201.04,547.48 199.60,548.37 199.99,546.72 198.71,545.63 200.39,545.49" fill="#231f20"/>
<polygon points="205.74,543.93 206.39,545.49 208.07,545.63 206.79,546.72 207.18,548.37 205.74,547.48 204.30,548.37 204.69,546.72 203.41,545.63 205.09,545.49" fill="#231f20"/>
<path d="M216.68,502.10 V498.30 H225.13 V502.10" fill="none" stroke="#000" stroke-width="1.5"/>
<polygon points="213.78,490.35 214.43,491.91 216.11,492.05 214.83,493.14 215.22,494.79 213.78,493.90 212.34,494.79 212.73,493.14 211.45,492.05 213.13,491.91" fill="#231f20"/>
<polygon points="218.48,490.35 219.13,491.91 220.81,492.05 219.53,493.14 219.92,494.79 218.48,493.90 217.04,494.79 217.43,493.14 216.15,492.05 217.83,491.91" fill="#231f20"/>
<polygon points="223.18,490.35 223.83,491.91 225.51,492.05 224.23,493.14 224.62,494.79 223.18,493.90 221.74,494.79 222.13,493.14 220.85,492.05 222.53,491.91" fill="#231f20"/>
<polygon points="227.88,490.35 228.53,491.91 230.21,492.05 228.93,493.14 229.32,494.79 227.88,493.90 226.44,494.79 226.83,493.14 225.55,492.05 227.23,491.91" fill="#231f20"/>
<path d="M236.47,488.95 V485.15 H244.92 V488.95" fill="none" stroke="#000" stroke-width="1.5"/>
<polygon points="233.57,477.20 234.22,478.76 235.90,478.89 234.62,479.99 235.01,481.63 233.57,480.75 232.13,481.63 232.52,479.99 231.24,478.89 232.92,478.76" fill="#231f20"/>
<polygon points="238.27,477.20 238.92,478.76 240.60,478.89 239.32,479.99 239.71,481.63 238.27,480.75 236.83,481.63 237.22,479.99 235.94,478.89 237.62,478.76" fill="#231f20"/>
<polygon points="242.97,477.20 243.62,478.76 245.30,478.89 244.02,479.99 244.41,481.63 242.97,480.75 241.53,481.63 241.92,479.99 240.64,478.89 242.32,478.76" fill="#231f20"/>
<polygon points="247.67,477.20 248.32,478.76 250.00,478.89 248.72,479.99 249.11,481.63 247.67,480.75 246.23,481.63 246.62,479.99 245.34,478.89 247.02,478.76" fill="#231f20"/>
<rect x="331.10" y="581.43" width="7.80" height="7.77" fill="#2d4b88" stroke="#1c2f5a" stroke-width="0.6"/>
<line x1="331.10" y1="581.53" x2="338.90" y2="581.53" stroke="#1a1a1a" stroke-width="0.9"/>
<rect x="339.50" y="581.73" width="7.90" height="7.47" fill="#c4093a" stroke="#6a0a20" stroke-width="0.6"/>
<line x1="339.50" y1="581.83" x2="347.40" y2="581.83" stroke="#1a1a1a" stroke-width="0.9"/>
<rect x="350.89" y="578.74" width="7.80" height="10.46" fill="#2d4b88" stroke="#1c2f5a" stroke-width="0.6"/>
<line x1="350.89" y1="578.84" x2="358.69" y2="578.84" stroke="#1a1a1a" stroke-width="0.9"/>
<line x1="363.24" y1="576.04" x2="363.24" y2="576.64" stroke="#000" stroke-width="1.3"/>
<line x1="361.24" y1="576.04" x2="365.24" y2="576.04" stroke="#000" stroke-width="1.3"/>
<rect x="359.29" y="576.94" width="7.90" height="12.26" fill="#c4093a" stroke="#6a0a20" stroke-width="0.6"/>
<line x1="359.29" y1="577.04" x2="367.19" y2="577.04" stroke="#1a1a1a" stroke-width="0.9"/>
<rect x="370.68" y="575.75" width="7.80" height="13.45" fill="#2d4b88" stroke="#1c2f5a" stroke-width="0.6"/>
<line x1="370.68" y1="575.85" x2="378.48" y2="575.85" stroke="#1a1a1a" stroke-width="0.9"/>
<rect x="379.08" y="574.55" width="7.90" height="14.65" fill="#c4093a" stroke="#6a0a20" stroke-width="0.6"/>
<line x1="379.08" y1="574.65" x2="386.98" y2="574.65" stroke="#1a1a1a" stroke-width="0.9"/>
<line x1="394.37" y1="570.96" x2="394.37" y2="571.86" stroke="#000" stroke-width="1.3"/>
<line x1="392.37" y1="570.96" x2="396.37" y2="570.96" stroke="#000" stroke-width="1.3"/>
<rect x="390.47" y="572.16" width="7.80" height="17.04" fill="#2d4b88" stroke="#1c2f5a" stroke-width="0.6"/>
<line x1="390.47" y1="572.26" x2="398.27" y2="572.26" stroke="#1a1a1a" stroke-width="0.9"/>
<line x1="402.82" y1="572.46" x2="402.82" y2="575.75" stroke="#000" stroke-width="1.3"/>
<line x1="400.82" y1="572.46" x2="404.82" y2="572.46" stroke="#000" stroke-width="1.3"/>
<rect x="398.87" y="576.04" width="7.90" height="13.16" fill="#c4093a" stroke="#6a0a20" stroke-width="0.6"/>
<line x1="398.87" y1="576.14" x2="406.77" y2="576.14" stroke="#1a1a1a" stroke-width="0.9"/>
<rect x="430.05" y="580.53" width="7.80" height="8.67" fill="#2d4b88" stroke="#1c2f5a" stroke-width="0.6"/>
<line x1="430.05" y1="580.63" x2="437.85" y2="580.63" stroke="#1a1a1a" stroke-width="0.9"/>
<rect x="438.45" y="581.73" width="7.90" height="7.47" fill="#c4093a" stroke="#6a0a20" stroke-width="0.6"/>
<line x1="438.45" y1="581.83" x2="446.35" y2="581.83" stroke="#1a1a1a" stroke-width="0.9"/>
<line x1="453.74" y1="548.24" x2="453.74" y2="556.61" stroke="#000" stroke-width="1.3"/>
<line x1="451.74" y1="548.24" x2="455.74" y2="548.24" stroke="#000" stroke-width="1.3"/>
<rect x="449.84" y="556.91" width="7.80" height="32.29" fill="#2d4b88" stroke="#1c2f5a" stroke-width="0.6"/>
<line x1="449.84" y1="557.01" x2="457.64" y2="557.01" stroke="#1a1a1a" stroke-width="0.9"/>
<line x1="462.19" y1="573.65" x2="462.19" y2="575.75" stroke="#000" stroke-width="1.3"/>
<line x1="460.19" y1="573.65" x2="464.19" y2="573.65" stroke="#000" stroke-width="1.3"/>
<rect x="458.24" y="576.04" width="7.90" height="13.16" fill="#c4093a" stroke="#6a0a20" stroke-width="0.6"/>
<line x1="458.24" y1="576.14" x2="466.14" y2="576.14" stroke="#1a1a1a" stroke-width="0.9"/>
<line x1="473.53" y1="516.54" x2="473.53" y2="524.32" stroke="#000" stroke-width="1.3"/>
<line x1="471.53" y1="516.54" x2="475.53" y2="516.54" stroke="#000" stroke-width="1.3"/>
<rect x="469.63" y="524.62" width="7.80" height="64.58" fill="#2d4b88" stroke="#1c2f5a" stroke-width="0.6"/>
<line x1="469.63" y1="524.72" x2="477.43" y2="524.72" stroke="#1a1a1a" stroke-width="0.9"/>
<line x1="481.98" y1="563.19" x2="481.98" y2="566.78" stroke="#000" stroke-width="1.3"/>
<line x1="479.98" y1="563.19" x2="483.98" y2="563.19" stroke="#000" stroke-width="1.3"/>
<rect x="478.03" y="567.08" width="7.90" height="22.13" fill="#c4093a" stroke="#6a0a20" stroke-width="0.6"/>
<line x1="478.03" y1="567.18" x2="485.93" y2="567.18" stroke="#1a1a1a" stroke-width="0.9"/>
<line x1="493.32" y1="496.51" x2="493.32" y2="499.50" stroke="#000" stroke-width="1.3"/>
<line x1="491.32" y1="496.51" x2="495.32" y2="496.51" stroke="#000" stroke-width="1.3"/>
<rect x="489.42" y="499.80" width="7.80" height="89.40" fill="#2d4b88" stroke="#1c2f5a" stroke-width="0.6"/>
<line x1="489.42" y1="499.90" x2="497.22" y2="499.90" stroke="#1a1a1a" stroke-width="0.9"/>
<line x1="501.77" y1="564.08" x2="501.77" y2="565.88" stroke="#000" stroke-width="1.3"/>
<line x1="499.77" y1="564.08" x2="503.77" y2="564.08" stroke="#000" stroke-width="1.3"/>
<rect x="497.82" y="566.18" width="7.90" height="23.02" fill="#c4093a" stroke="#6a0a20" stroke-width="0.6"/>
<line x1="497.82" y1="566.28" x2="505.72" y2="566.28" stroke="#1a1a1a" stroke-width="0.9"/>
<line x1="329.40" y1="466.40" x2="329.40" y2="589.95" stroke="#000" stroke-width="1.5"/>
<line x1="325.10" y1="589.20" x2="329.40" y2="589.20" stroke="#000" stroke-width="1.2"/>
<text x="314.07" y="593.11" font-size="11.2" text-anchor="start" font-weight="normal" fill="#231f20" textLength="6.73" lengthAdjust="spacingAndGlyphs" >0</text>
<line x1="325.10" y1="559.30" x2="329.40" y2="559.30" stroke="#000" stroke-width="1.2"/>
<text x="307.36" y="563.21" font-size="11.2" text-anchor="start" font-weight="normal" fill="#231f20" textLength="13.45" lengthAdjust="spacingAndGlyphs" >10</text>
<line x1="325.10" y1="529.40" x2="329.40" y2="529.40" stroke="#000" stroke-width="1.2"/>
<text x="307.36" y="533.31" font-size="11.2" text-anchor="start" font-weight="normal" fill="#231f20" textLength="13.45" lengthAdjust="spacingAndGlyphs" >20</text>
<line x1="325.10" y1="499.50" x2="329.40" y2="499.50" stroke="#000" stroke-width="1.2"/>
<text x="307.36" y="503.41" font-size="11.2" text-anchor="start" font-weight="normal" fill="#231f20" textLength="13.45" lengthAdjust="spacingAndGlyphs" >30</text>
<line x1="325.10" y1="469.60" x2="329.40" y2="469.60" stroke="#000" stroke-width="1.2"/>
<text x="307.36" y="473.51" font-size="11.2" text-anchor="start" font-weight="normal" fill="#231f20" textLength="13.45" lengthAdjust="spacingAndGlyphs" >40</text>
<line x1="328.65" y1="589.20" x2="508.42" y2="589.20" stroke="#000" stroke-width="1.7"/>
<line x1="339.20" y1="589.20" x2="339.20" y2="593.50" stroke="#000" stroke-width="1.2"/>
<line x1="358.99" y1="589.20" x2="358.99" y2="593.50" stroke="#000" stroke-width="1.2"/>
<line x1="378.78" y1="589.20" x2="378.78" y2="593.50" stroke="#000" stroke-width="1.2"/>
<line x1="398.57" y1="589.20" x2="398.57" y2="593.50" stroke="#000" stroke-width="1.2"/>
<line x1="418.36" y1="589.20" x2="418.36" y2="593.50" stroke="#000" stroke-width="1.2"/>
<line x1="438.15" y1="589.20" x2="438.15" y2="593.50" stroke="#000" stroke-width="1.2"/>
<line x1="457.94" y1="589.20" x2="457.94" y2="593.50" stroke="#000" stroke-width="1.2"/>
<line x1="477.73" y1="589.20" x2="477.73" y2="593.50" stroke="#000" stroke-width="1.2"/>
<line x1="497.52" y1="589.20" x2="497.52" y2="593.50" stroke="#000" stroke-width="1.2"/>
<text x="0.00" y="0.00" font-size="12.1" text-anchor="end" font-weight="normal" fill="#231f20" transform="translate(342.40,604.40) rotate(-45)">0</text>
<text x="0.00" y="0.00" font-size="12.1" text-anchor="end" font-weight="normal" fill="#231f20" transform="translate(361.89,604.30) rotate(-45)">0.0125</text>
<text x="0.00" y="0.00" font-size="12.1" text-anchor="end" font-weight="normal" fill="#231f20" transform="translate(381.68,604.10) rotate(-45)">0.025</text>
<text x="0.00" y="0.00" font-size="12.1" text-anchor="end" font-weight="normal" fill="#231f20" transform="translate(402.47,604.40) rotate(-45)">0.05</text>
<line x1="330.60" y1="636.10" x2="408.80" y2="636.10" stroke="#000" stroke-width="1.9"/>
<text x="0.00" y="0.00" font-size="12.1" text-anchor="end" font-weight="normal" fill="#231f20" transform="translate(441.35,604.40) rotate(-45)">0</text>
<text x="0.00" y="0.00" font-size="12.1" text-anchor="end" font-weight="normal" fill="#231f20" transform="translate(460.84,604.30) rotate(-45)">0.0125</text>
<text x="0.00" y="0.00" font-size="12.1" text-anchor="end" font-weight="normal" fill="#231f20" transform="translate(480.63,604.10) rotate(-45)">0.025</text>
<text x="0.00" y="0.00" font-size="12.1" text-anchor="end" font-weight="normal" fill="#231f20" transform="translate(501.42,604.40) rotate(-45)">0.05</text>
<line x1="430.30" y1="636.10" x2="509.00" y2="636.10" stroke="#000" stroke-width="1.9"/>
<text x="348.60" y="650.80" font-size="11.5" text-anchor="start" font-weight="normal" fill="#231f20" textLength="36.21" lengthAdjust="spacingAndGlyphs" >- Shear</text>
<text x="445.83" y="651.10" font-size="11.5" text-anchor="start" font-weight="normal" fill="#231f20" textLength="40.20" lengthAdjust="spacingAndGlyphs" >+ Shear</text>
<text x="272.40" y="607.00" font-size="11.8" text-anchor="start" font-weight="normal" fill="#231f20" textLength="54.31" lengthAdjust="spacingAndGlyphs" >Thrombin:</text>
<text x="281.50" y="621.50" font-size="11.8" text-anchor="start" font-weight="normal" fill="#231f20" textLength="35.87" lengthAdjust="spacingAndGlyphs" >(U/mL)</text>
<text x="-47.96" y="0" font-size="12" fill="#231f20" textLength="96.28" lengthAdjust="spacingAndGlyphs" transform="translate(282.00,527.10) rotate(-90)" style="stroke-width:0.32px">Annexin V+ events</text>
<text x="-45.63" y="0" font-size="12" fill="#231f20" textLength="91.31" lengthAdjust="spacingAndGlyphs" transform="translate(298.50,527.60) rotate(-90)" style="stroke-width:0.32px">(% of total events)</text>
<text x="270.66" y="454.70" font-size="16" text-anchor="start" font-weight="bold" fill="#231f20" >F</text>
<rect x="336.70" y="472.90" width="13.6" height="7.2" fill="#2d4b88" stroke="#1c2f5a" stroke-width="0.5"/>
<rect x="336.70" y="485.90" width="13.6" height="7.2" fill="#c4093a" stroke="#6a0a20" stroke-width="0.5"/>
<text x="353.15" y="480.10" font-size="10.4" text-anchor="start" font-weight="normal" fill="#231f20" textLength="16.36" lengthAdjust="spacingAndGlyphs" >WT</text>
<text x="352.92" y="492.80" font-size="10.4" text-anchor="start" font-weight="normal" fill="#231f20" textLength="31.93" lengthAdjust="spacingAndGlyphs" >β3 KO</text>
<path d="M453.79,544.56 V540.76 H462.24 V544.56" fill="none" stroke="#000" stroke-width="1.5"/>
<polygon points="455.59,532.81 456.24,534.37 457.92,534.50 456.64,535.60 457.03,537.24 455.59,536.36 454.15,537.24 454.54,535.60 453.26,534.50 454.94,534.37" fill="#231f20"/>
<polygon points="460.29,532.81 460.94,534.37 462.62,534.50 461.34,535.60 461.73,537.24 460.29,536.36 458.85,537.24 459.24,535.60 457.96,534.50 459.64,534.37" fill="#231f20"/>
<path d="M473.58,513.17 V509.37 H482.03 V513.17" fill="none" stroke="#000" stroke-width="1.5"/>
<polygon points="470.68,501.42 471.33,502.98 473.01,503.11 471.73,504.21 472.12,505.85 470.68,504.97 469.24,505.85 469.63,504.21 468.35,503.11 470.03,502.98" fill="#231f20"/>
<polygon points="475.38,501.42 476.03,502.98 477.71,503.11 476.43,504.21 476.82,505.85 475.38,504.97 473.94,505.85 474.33,504.21 473.05,503.11 474.73,502.98" fill="#231f20"/>
<polygon points="480.08,501.42 480.73,502.98 482.41,503.11 481.13,504.21 481.52,505.85 480.08,504.97 478.64,505.85 479.03,504.21 477.75,503.11 479.43,502.98" fill="#231f20"/>
<polygon points="484.78,501.42 485.43,502.98 487.11,503.11 485.83,504.21 486.22,505.85 484.78,504.97 483.34,505.85 483.73,504.21 482.45,503.11 484.13,502.98" fill="#231f20"/>
<path d="M493.37,493.73 V489.93 H501.82 V493.73" fill="none" stroke="#000" stroke-width="1.5"/>
<polygon points="490.47,481.98 491.12,483.54 492.80,483.67 491.52,484.77 491.91,486.41 490.47,485.53 489.03,486.41 489.42,484.77 488.14,483.67 489.82,483.54" fill="#231f20"/>
<polygon points="495.17,481.98 495.82,483.54 497.50,483.67 496.22,484.77 496.61,486.41 495.17,485.53 493.73,486.41 494.12,484.77 492.84,483.67 494.52,483.54" fill="#231f20"/>
<polygon points="499.87,481.98 500.52,483.54 502.20,483.67 500.92,484.77 501.31,486.41 499.87,485.53 498.43,486.41 498.82,484.77 497.54,483.67 499.22,483.54" fill="#231f20"/>
<polygon points="504.57,481.98 505.22,483.54 506.90,483.67 505.62,484.77 506.01,486.41 504.57,485.53 503.13,486.41 503.52,484.77 502.24,483.67 503.92,483.54" fill="#231f20"/>
<rect x="0" y="0" width="2.1" height="661" fill="#000"/>
<rect x="0" y="0" width="520" height="1.9" fill="#000"/>
<rect x="517.7" y="0" width="2.3" height="661" fill="#000"/>
<rect x="0" y="658.6" width="520" height="2.4" fill="#000"/>
</svg>
</body></html>
